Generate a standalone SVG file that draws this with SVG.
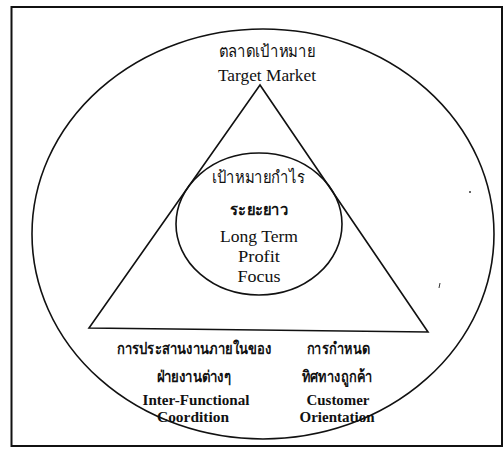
<svg xmlns="http://www.w3.org/2000/svg" width="504" height="450" viewBox="0 0 504 450">
<style>
.ln{fill:none;stroke:#111;stroke-width:1.6}
.t{font-family:"Liberation Serif","Times New Roman",serif;fill:#111;text-anchor:middle}
.th{font-size:17px}
.en{font-size:17px}
.b{font-weight:bold;font-size:15px}
.thb{font-weight:bold;font-size:16px}
</style>
<rect x="0" y="0" width="504" height="450" fill="#fff"/>
<rect id="frame" x="11.5" y="7" width="490.5" height="439" fill="none" stroke="#111" stroke-width="2"/>
<g id="connectors"></g>
<g id="target-market">
<ellipse class="ln" cx="263" cy="234" rx="231" ry="205"/>
<text class="t th" x="267" y="57" textLength="97" lengthAdjust="spacingAndGlyphs">ตลาดเป้าหมาย</text>
<text class="t en" x="267" y="81" textLength="98" lengthAdjust="spacingAndGlyphs">Target Market</text>
</g>
<g id="triangle">
<polygon class="ln" points="260,85 89,328 428,332"/>
</g>
<g id="profit">
<ellipse class="ln" cx="259" cy="224" rx="83" ry="71"/>
<text class="t th" x="258" y="183" textLength="93" lengthAdjust="spacingAndGlyphs">เป้าหมายกำไร</text>
<text class="t thb" x="259" y="215" textLength="58" lengthAdjust="spacingAndGlyphs">ระยะยาว</text>
<text class="t en" x="259" y="242" textLength="78" lengthAdjust="spacingAndGlyphs">Long Term</text>
<text class="t en" x="259" y="262" textLength="42" lengthAdjust="spacingAndGlyphs">Profit</text>
<text class="t en" x="259" y="282" textLength="43" lengthAdjust="spacingAndGlyphs">Focus</text>
</g>
<g id="inter-functional">
<text class="t thb" x="194" y="354" textLength="155" lengthAdjust="spacingAndGlyphs">การประสานงานภายในของ</text>
<text class="t thb" x="194" y="382" textLength="75" lengthAdjust="spacingAndGlyphs">ฝ่ายงานต่างๆ</text>
<text class="t b" x="196" y="405" textLength="107" lengthAdjust="spacingAndGlyphs">Inter-Functional</text>
<text class="t b" x="193" y="422" textLength="72" lengthAdjust="spacingAndGlyphs">Coordition</text>
</g>
<g id="customer">
<text class="t thb" x="338" y="354" textLength="63" lengthAdjust="spacingAndGlyphs">การกำหนด</text>
<text class="t thb" x="337" y="382" textLength="71" lengthAdjust="spacingAndGlyphs">ทิศทางถูกค้า</text>
<text class="t b" x="338" y="405" textLength="63" lengthAdjust="spacingAndGlyphs">Customer</text>
<text class="t b" x="337" y="422" textLength="75" lengthAdjust="spacingAndGlyphs">Orientation</text>
</g>
<circle cx="470" cy="192" r="1" fill="#333"/>
<line x1="439" y1="288" x2="440" y2="283" stroke="#333" stroke-width="1"/>
</svg>
